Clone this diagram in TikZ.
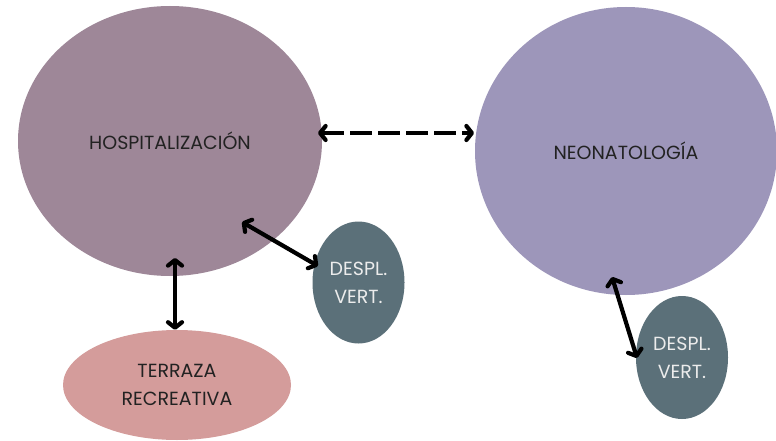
\documentclass[tikz,border=0pt]{standalone}
\usepackage{fontspec}
\setmainfont{Poppins}
\usetikzlibrary{shapes.geometric,arrows.meta,calc}
\definecolor{hospc}{HTML}{9E8798}
\definecolor{neoc}{HTML}{9D96BA}
\definecolor{despc}{HTML}{5B7079}
\definecolor{terrc}{HTML}{D49C9B}
\definecolor{txtdark}{HTML}{222222}
\definecolor{txtlight}{HTML}{ECECEC}
\tikzset{
  blob/.style={ellipse,inner sep=0pt,draw=none,align=center,font=\fontsize{19}{28}\selectfont},
  arr/.style={line width=4.2pt,{Straight Barb[length=5.5pt,width=14pt,line cap=round,line join=round]}-{Straight Barb[length=5.5pt,width=14pt,line cap=round,line join=round]}},
}
\begin{document}
\begin{tikzpicture}[x=1pt,y=-1pt]
\useasboundingbox[fill=white] (0,0) rectangle (776,441);
\node[blob,fill=hospc,text=txtdark,minimum width=304pt,minimum height=270pt] (hosp) at (170,141) {HOSPITALIZACIÓN};
\node[blob,fill=neoc,text=txtdark,minimum width=302pt,minimum height=288pt] (neo) at (626,151) {NEONATOLOGÍA};
\node[blob,fill=despc,text=txtlight,minimum width=92pt,minimum height=122pt] (d1) at (358.5,282.5) {DESPL.\\VERT.};
\node[blob,fill=despc,text=txtlight,minimum width=92pt,minimum height=123pt] (d2) at (682,357.5) {DESPL.\\VERT.};
\node[blob,fill=terrc,text=txtdark,minimum width=228pt,minimum height=110pt] (terr) at (177,385) {TERRAZA\\RECREATIVA};
\draw[arr,dash pattern=on 22pt off 6pt] ($(hosp.center)+(148,-8)$) -- ($(neo.center)+(-152,-18)$);
\draw[arr] ($(hosp.center)+(5,117)$) -- ($(terr.north)+(-2,0)$);
\draw[arr] ($(hosp.center)+(72,81)$) -- ($(d1.center)+(-40.5,-16.5)$);
\draw[arr] ($(neo.center)+(-14,126)$) -- ($(d2.center)+(-45,0.5)$);
\end{tikzpicture}
\end{document}
